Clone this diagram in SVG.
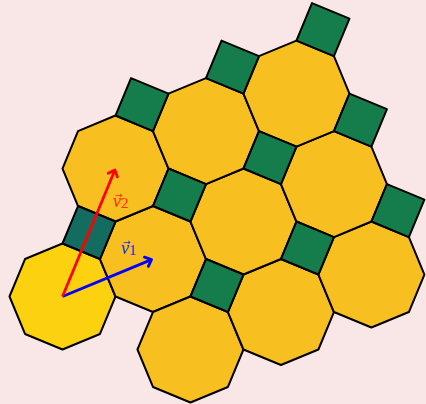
<svg xmlns="http://www.w3.org/2000/svg" xmlns:xlink="http://www.w3.org/1999/xlink" width="426" height="404" viewBox="0 0 426 404">
<style>
.oct{fill:#F8BF20;stroke:#000;stroke-width:2;stroke-linejoin:round}
.base{fill:#FCD10F}
.sq{fill:#157C4B;stroke:#000;stroke-width:2;stroke-linejoin:round}
.teal{fill:#146B5F}
.lbl{font-family:"Liberation Serif","DejaVu Serif",serif;font-size:18px}
.acc{font-family:"DejaVu Sans",sans-serif;font-size:9px}
</style>
<defs>
<polygon id="o" points="53,0 37.477,-37.477 0,-53 -37.477,-37.477 -53,0 -37.477,37.477 0,53 37.477,37.477"/>
<polygon id="s" points="0,-53 37.477,-37.477 53,-74.954 15.523,-90.477"/>
<marker id="ab" viewBox="-7 -7 14 14" markerWidth="14" markerHeight="14" markerUnits="userSpaceOnUse" refX="0" refY="0" orient="auto">
<path d="M-5.5,-5 L0,0 L-5.5,5" fill="none" stroke="#0000FF" stroke-width="2.8" stroke-linecap="round" stroke-linejoin="round"/>
</marker>
<marker id="ar" viewBox="-7 -7 14 14" markerWidth="14" markerHeight="14" markerUnits="userSpaceOnUse" refX="0" refY="0" orient="auto">
<path d="M-5.5,-5 L0,0 L-5.5,5" fill="none" stroke="#FF0000" stroke-width="2.8" stroke-linecap="round" stroke-linejoin="round"/>
</marker>
</defs>
<rect width="426" height="404" fill="#F9E7E7"/>
<g id="octagons">
<g id="oct-0-0"><use xlink:href="#o" class="oct base" x="62.5" y="296.5"/></g>
<g id="oct-1-0"><use xlink:href="#o" class="oct" x="152.977" y="259.023"/></g>
<g id="oct-1-1"><use xlink:href="#o" class="oct" x="115.5" y="168.546"/></g>
<g id="oct-1-m1"><use xlink:href="#o" class="oct" x="190.454" y="349.5"/></g>
<g id="oct-2-m1"><use xlink:href="#o" class="oct" x="280.931" y="312.023"/></g>
<g id="oct-3-m1"><use xlink:href="#o" class="oct" x="371.408" y="274.546"/></g>
<g id="oct-2-0"><use xlink:href="#o" class="oct" x="243.454" y="221.546"/></g>
<g id="oct-3-0"><use xlink:href="#o" class="oct" x="333.931" y="184.069"/></g>
<g id="oct-2-1"><use xlink:href="#o" class="oct" x="205.977" y="131.069"/></g>
<g id="oct-3-1"><use xlink:href="#o" class="oct" x="296.454" y="93.592"/></g>
</g>
<g id="squares">
<g id="sq-0-0"><use xlink:href="#s" class="sq teal" x="62.5" y="296.5"/></g>
<g id="sq-1-0"><use xlink:href="#s" class="sq" x="152.977" y="259.023"/></g>
<g id="sq-1-1"><use xlink:href="#s" class="sq" x="115.5" y="168.546"/></g>
<g id="sq-1-m1"><use xlink:href="#s" class="sq" x="190.454" y="349.5"/></g>
<g id="sq-2-m1"><use xlink:href="#s" class="sq" x="280.931" y="312.023"/></g>
<g id="sq-3-m1"><use xlink:href="#s" class="sq" x="371.408" y="274.546"/></g>
<g id="sq-2-0"><use xlink:href="#s" class="sq" x="243.454" y="221.546"/></g>
<g id="sq-3-0"><use xlink:href="#s" class="sq" x="333.931" y="184.069"/></g>
<g id="sq-2-1"><use xlink:href="#s" class="sq" x="205.977" y="131.069"/></g>
<g id="sq-3-1"><use xlink:href="#s" class="sq" x="296.454" y="93.592"/></g>
</g>
<g id="connectors">
<line x1="62.5" y1="296.5" x2="151.5" y2="259.6" stroke="#0000FF" stroke-width="2.8" marker-end="url(#ab)"/>
<line x1="62.5" y1="296.5" x2="114.9" y2="170" stroke="#FF0000" stroke-width="2.8" marker-end="url(#ar)"/>
</g>
<g id="labels">
<text class="lbl" x="113" y="207" fill="#FF2A00"><tspan font-style="italic">v</tspan><tspan font-size="15" dy="1">2</tspan></text>
<text class="acc" x="115" y="198" fill="#FF2A00">→</text>
<text class="lbl" x="121" y="254" fill="#1A2AE6"><tspan font-style="italic">v</tspan><tspan font-size="15" dy="1">1</tspan></text>
<text class="acc" x="123" y="245" fill="#1A2AE6">→</text>
</g>
</svg>
